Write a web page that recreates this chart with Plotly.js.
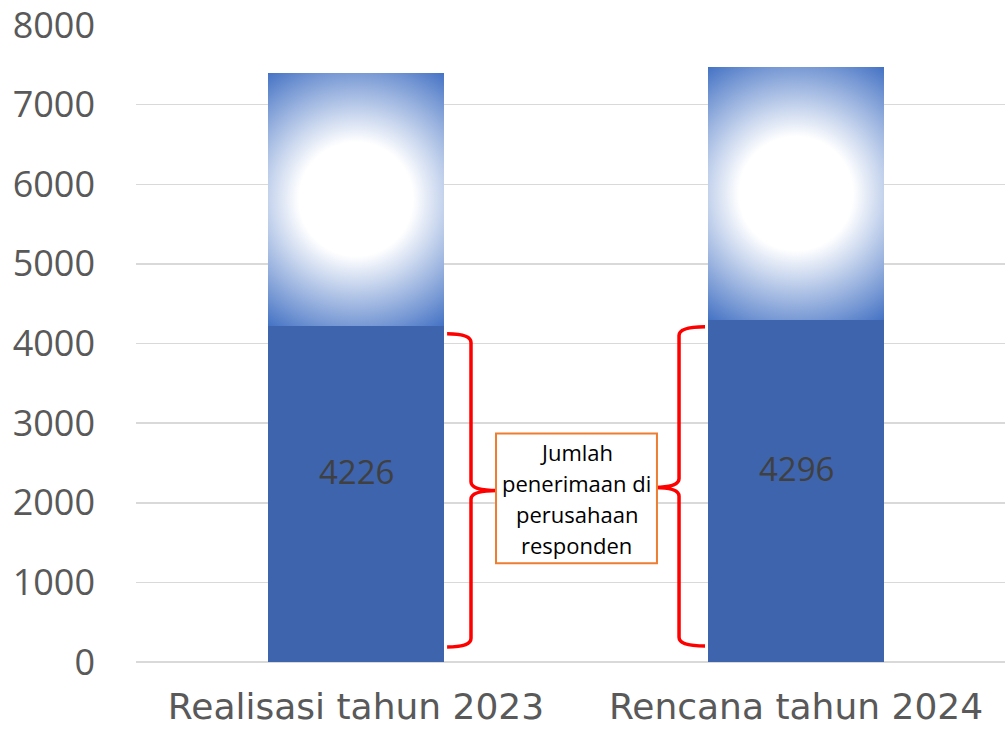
<!DOCTYPE html>
<html>
<head>
<meta charset="utf-8">
<script src="https://cdn.plot.ly/plotly-3.0.1.min.js"></script>
<style>
  html, body { margin: 0; padding: 0; background: #fff; }
  #grafik { width: 1005px; height: 729px; }
</style>
</head>
<body>
<div id="grafik"></div>
<script>
// Daten
var kategorien = ['Realisasi tahun 2023', 'Rencana tahun 2024'];
var penerimaan = [4226, 4296];      // unterer, dunkelblauer Teil
var sisa = [3174, 3174];            // oberer Teil mit Verlauf
var yTicks = [0, 1000, 2000, 3000, 4000, 5000, 6000, 7000, 8000];
var kotakZeilen = ['Jumlah', 'penerimaan di', 'perusahaan', 'responden'];

var schrift = 'Open Sans, DejaVu Sans, sans-serif';

var traces = [
    {
        x: kategorien,
        y: penerimaan,
        type: 'bar',
        marker: { color: '#3D64AD' },
        hoverinfo: 'skip'
    },
    {
        x: kategorien,
        y: sisa,
        type: 'bar',
        marker: { color: '#4472C4' },
        hoverinfo: 'skip'
    }
];

// Zahlen in den Balken
var annotations = [];
for (var i = 0; i < kategorien.length; i++) {
    annotations.push({
        x: kategorien[i],
        y: penerimaan[i] / 2,
        yshift: 22,
        text: String(penerimaan[i]),
        showarrow: false,
        font: { family: schrift, size: 33, color: '#404040' }
    });
}
// Textzeilen im Kasten, einzeln wegen Zeilenabstand
for (var j = 0; j < kotakZeilen.length; j++) {
    annotations.push({
        xref: 'paper', yref: 'y',
        x: 0.507, y: 2055,
        yshift: (1.5 - j) * 31,
        text: kotakZeilen[j],
        showarrow: false,
        font: { family: schrift, size: 22, color: '#000000' }
    });
}

// geschweifte Klammer als Pfad (x in paper, y in Daten)
function klammer(xEnde, xRuecken, xSpitze, yOben, yUnten, ySpitze) {
    var r = 110;
    return 'M' + xEnde + ',' + yOben +
        ' Q' + xRuecken + ',' + yOben + ' ' + xRuecken + ',' + (yOben - r) +
        ' L' + xRuecken + ',' + (ySpitze + r) +
        ' Q' + xRuecken + ',' + ySpitze + ' ' + xSpitze + ',' + ySpitze +
        ' Q' + xRuecken + ',' + ySpitze + ' ' + xRuecken + ',' + (ySpitze - r) +
        ' L' + xRuecken + ',' + (yUnten + r) +
        ' Q' + xRuecken + ',' + yUnten + ' ' + xEnde + ',' + yUnten;
}

var shapes = [
    {
        type: 'path', xref: 'paper', yref: 'y',
        path: klammer(0.358, 0.3855, 0.4154, 4123, 188, 2155),
        line: { color: '#FF0000', width: 3.5 }
    },
    {
        type: 'path', xref: 'paper', yref: 'y',
        path: klammer(0.6548, 0.6249, 0.5972, 4211, 200, 2193),
        line: { color: '#FF0000', width: 3.5 }
    },
    {
        type: 'rect', xref: 'paper', yref: 'y',
        x0: 0.4143, x1: 0.5995, y0: 1241, y1: 2870,
        fillcolor: '#ffffff',
        line: { color: '#ED7D31', width: 2 }
    }
];

var layout = {
    width: 1005,
    height: 729,
    margin: { l: 136, r: 0, t: 25, b: 67 },
    barmode: 'stack',
    bargap: 0.6,
    showlegend: false,
    paper_bgcolor: '#ffffff',
    plot_bgcolor: '#ffffff',
    xaxis: {
        type: 'category',
        range: [-0.5, 1.475],
        showgrid: false,
        showline: false,
        zeroline: false,
        ticks: '',
        ticklabelstandoff: 20,
        ticklabeloverflow: 'allow',
        tickfont: { family: 'DejaVu Sans, sans-serif', size: 36, color: '#595959' }
    },
    yaxis: {
        range: [0, 8000],
        tickvals: yTicks,
        showgrid: true,
        gridcolor: '#D9D9D9',
        gridwidth: 1.5,
        zeroline: true,
        zerolinecolor: '#D9D9D9',
        zerolinewidth: 1.5,
        showline: false,
        ticks: '',
        ticklabelstandoff: 40,
        ticklabeloverflow: 'allow',
        tickfont: { family: schrift, size: 36, color: '#595959' }
    },
    annotations: annotations,
    shapes: shapes
};

Plotly.newPlot('grafik', traces, layout, { staticPlot: true }).then(function (gd) {
    // radialer Verlauf fuer den oberen Teil, je Balken kreisfoermig
    var ns = 'http://www.w3.org/2000/svg';
    var svg = gd.querySelector('svg.main-svg');
    var defs = svg.querySelector('defs') || svg.insertBefore(document.createElementNS(ns, 'defs'), svg.firstChild);
    var spuren = gd.querySelectorAll('.barlayer .trace');
    spuren[1].querySelectorAll('path').forEach(function (p, k) {
        var bb = p.getBBox();
        var grad = document.createElementNS(ns, 'radialGradient');
        grad.setAttribute('id', 'verlauf' + k);
        grad.setAttribute('gradientUnits', 'userSpaceOnUse');
        grad.setAttribute('cx', bb.x + bb.width / 2);
        grad.setAttribute('cy', bb.y + bb.height / 2);
        grad.setAttribute('r', Math.sqrt(bb.width * bb.width + bb.height * bb.height) / 2);
        [['0', '#FFFFFF'], ['0.37', '#FFFFFF'], ['1', '#4472C4']].forEach(function (s) {
            var stop = document.createElementNS(ns, 'stop');
            stop.setAttribute('offset', s[0]);
            stop.setAttribute('stop-color', s[1]);
            grad.appendChild(stop);
        });
        defs.appendChild(grad);
        p.style.setProperty('fill', 'url(#verlauf' + k + ')');
    });
});
</script>
</body>
</html>
